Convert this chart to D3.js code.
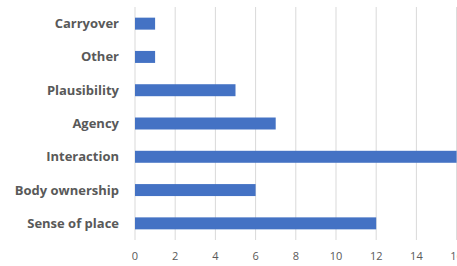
<!DOCTYPE html>
<html><head><meta charset="utf-8">
<script src="https://cdn.jsdelivr.net/npm/d3@7"></script>
<style>html,body{margin:0;padding:0;background:#fff;overflow:hidden}</style>
</head><body>
<script>
const categories = ["Carryover","Other","Plausibility","Agency","Interaction","Body ownership","Sense of place"];
const values = [1,1,5,7,16,6,12];
const ticks = [0,2,4,6,8,10,12,14,16];

const W = 457, H = 266;
const svg = d3.select("body").append("svg").attr("width",W).attr("height",H);
const x = d3.scaleLinear().domain([0,16]).range([135, 135+16*20.1]);
const y = d3.scaleBand().domain(categories).range([7,240]).paddingInner(0.64).paddingOuter(0.32);

svg.append("g").selectAll("line").data(ticks).join("line")
  .attr("x1",d=>x(d)).attr("x2",d=>x(d)).attr("y1",7).attr("y2",240)
  .attr("stroke","#d9d9d9").attr("stroke-width",1);

svg.append("g").selectAll("rect").data(values).join("rect")
  .attr("x",x(0)).attr("y",(d,i)=>y(categories[i]))
  .attr("width",d=>x(d)-x(0)).attr("height",y.bandwidth())
  .attr("fill","#4472c4");

svg.append("g").selectAll("text").data(categories).join("text")
  .attr("x",119).attr("y",d=>y(d)+y.bandwidth()/2).attr("dy","0.35em")
  .attr("text-anchor","end").attr("font-family","Open Sans, sans-serif")
  .attr("font-weight","bold").attr("font-size",13).attr("fill","#595959")
  .text(d=>d);

svg.append("g").selectAll("text").data(ticks).join("text")
  .attr("x",d=>x(d)).attr("y",256).attr("dy","0.35em")
  .attr("text-anchor","middle").attr("font-family","Open Sans, sans-serif")
  .attr("font-size",11).attr("fill","#595959")
  .text(d=>d);
</script>
</body></html>
